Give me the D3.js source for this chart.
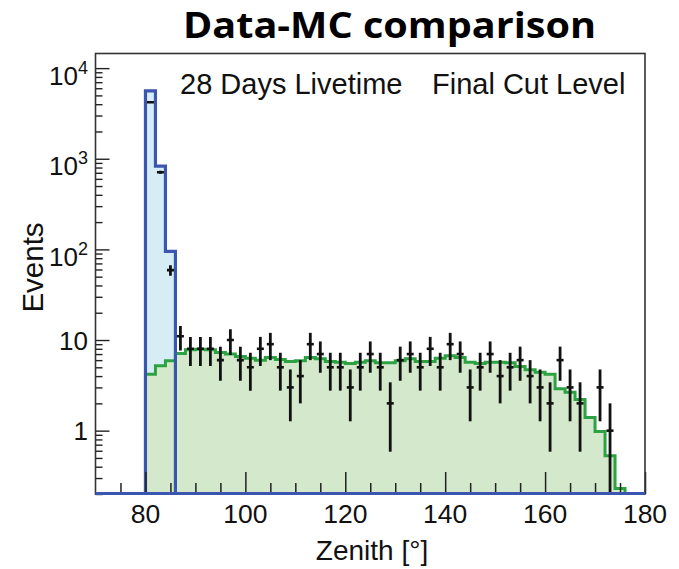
<!DOCTYPE html>
<html>
<head>
<meta charset="utf-8">
<script src="https://cdn.jsdelivr.net/npm/d3@7"></script>
<style>
  html, body { margin: 0; padding: 0; background: #fff; }
  svg { display: block; }
</style>
</head>
<body>
<div id="chart"></div>
<script>
// bins are 2 degrees wide, starting at 80
const binStart = 80;
const binWidth = 2;

// signal MC (blue) – first three bins only
const signalMC = [5600, 830, 95];

// background MC (green), bins 80-82 ... 174-176
const backgroundMC = [4.2, 5.2, 5.9, 7.1, 7.8, 7.9, 7.8, 7.3, 7.0, 6.6,
    6.3, 6.0, 6.4, 6.1, 5.8, 5.9, 6.4, 6.2, 5.8, 5.7,
    5.5, 5.7, 5.9, 5.6, 5.6, 5.9, 6.2, 5.8, 5.8, 6.3,
    6.7, 6.4, 5.7, 5.5, 5.7, 5.7, 5.6, 5.1, 4.7, 4.4,
    4.2, 2.9, 2.65, 2.2, 1.4, 0.98, 0.53, 0.23];

// data counts, bin centres 81 ... 173
const dataCounts = [4200, 710, 59, 11, 8, 8, 8, 6, 10, 6, 5, 8, 9, 5, 3,
    4, 9, 7, 5, 5, 3, 5, 7, 5, 2, 6, 7, 5, 8, 5, 9, 7, 3, 5, 7,
    4, 5, 6, 4, 3, 2, 6, 3, 2, 0, 3, 1];

const xTicks = [80, 100, 120, 140, 160, 180];
const yTicks = [1, 10, 100, 1000, 10000];
const yTickLabels = [["1", ""], ["10", ""], ["10", "2"], ["10", "3"], ["10", "4"]];

const blue = "#3a56b0", blueFill = "#d6edf5";
const green = "#2ba342", greenFill = "#d4e9cc";

const W = 679, H = 569;
const pLeft = 95.5, pRight = 645, pTop = 53.5, pBottom = 494;

const svg = d3.select("#chart").append("svg")
    .attr("width", W)
    .attr("height", H);

const x = d3.scaleLinear().domain([70, 180]).range([pLeft, pRight]);
const yMin = 0.2;
const y = d3.scaleLog().domain([yMin, 14500]).range([pBottom, pTop]);

svg.append("defs").append("clipPath")
    .attr("id", "plotclip")
    .append("rect")
    .attr("x", pLeft).attr("y", pTop)
    .attr("width", pRight - pLeft).attr("height", pBottom - pTop);

// turns bin values into step points over the full x range
function steps(values) {
    const pts = [[70, yMin], [binStart, yMin]];
    values.forEach((v, i) => {
        const x0 = binStart + i * binWidth;
        const vv = Math.max(v, yMin);
        pts.push([x0, vv], [x0 + binWidth, vv]);
    });
    const end = binStart + values.length * binWidth;
    pts.push([end, yMin], [180, yMin]);
    return pts;
}

const line = d3.line().x(d => x(d[0])).y(d => y(d[1]));
const area = d3.area().x(d => x(d[0])).y0(y(yMin)).y1(d => y(d[1]));

const plot = svg.append("g").attr("clip-path", "url(#plotclip)");

const sigPts = steps(signalMC);
const bkgPts = steps(backgroundMC);

plot.append("path").attr("d", area(sigPts)).attr("fill", blueFill);
plot.append("path").attr("d", area(bkgPts)).attr("fill", greenFill);
plot.append("path").attr("d", line(bkgPts))
    .attr("fill", "none").attr("stroke", green).attr("stroke-width", 3);
plot.append("path").attr("d", line(sigPts))
    .attr("fill", "none").attr("stroke", blue).attr("stroke-width", 3.2);

// data points with sqrt(N) errors
const pts = dataCounts.map((n, i) => ({ c: binStart + binWidth / 2 + i * binWidth, n }))
    .filter(d => d.n > 0);

const dp = plot.append("g").attr("stroke", "#111");
dp.selectAll("line.v").data(pts).join("line")
    .attr("class", "v")
    .attr("x1", d => x(d.c)).attr("x2", d => x(d.c))
    .attr("y1", d => y(d.n + Math.sqrt(d.n)))
    .attr("y2", d => y(Math.max(d.n - Math.sqrt(d.n), yMin)))
    .attr("stroke-width", 2.8);
dp.selectAll("line.h").data(pts).join("line")
    .attr("class", "h")
    .attr("x1", d => x(d.c - 0.7)).attr("x2", d => x(d.c + 0.7))
    .attr("y1", d => y(d.n)).attr("y2", d => y(d.n))
    .attr("stroke-width", 2.6);

// axes: ticks inward, ROOT style
const axisColor = "#222";
const xMinor = d3.range(75, 180, 5).filter(v => v % 20 !== 0);
const xAxis = svg.append("g").attr("transform", `translate(0,${pBottom})`);
xAxis.call(d3.axisBottom(x).tickValues(xTicks).tickSize(-22).tickFormat(""));
xAxis.call(g => g.append("g").call(d3.axisBottom(x).tickValues(xMinor).tickSize(-11).tickFormat("")));
xAxis.selectAll(".domain").remove();
xAxis.selectAll("line").attr("stroke", axisColor).attr("stroke-width", 1.5);

const yMinor = [];
[0.1, 1, 10, 100, 1000, 10000].forEach(dec => {
    for (let k = 2; k <= 9; k++) {
        const v = dec * k;
        if (v >= yMin && v <= 14500) yMinor.push(v);
    }
});
const yAxis = svg.append("g").attr("transform", `translate(${pLeft},0)`);
yAxis.call(d3.axisLeft(y).tickValues(yTicks).tickSize(-14).tickFormat(""));
yAxis.call(g => g.append("g").call(d3.axisLeft(y).tickValues(yMinor).tickSize(-7).tickFormat("")));
yAxis.selectAll(".domain").remove();
yAxis.selectAll("line").attr("stroke", axisColor).attr("stroke-width", 1.4);

// frame
svg.append("rect")
    .attr("x", pLeft).attr("y", pTop)
    .attr("width", pRight - pLeft).attr("height", pBottom - pTop)
    .attr("fill", "none").attr("stroke", "#333").attr("stroke-width", 1.6);

// blue baseline drawn over the frame bottom like the reference
svg.append("line")
    .attr("x1", pLeft).attr("x2", pRight)
    .attr("y1", pBottom - 0.5).attr("y2", pBottom - 0.5)
    .attr("stroke", blue).attr("stroke-width", 3);

const font = "'Liberation Sans', Arial, sans-serif";

// x tick labels
svg.append("g").selectAll("text").data(xTicks).join("text")
    .attr("x", d => x(d)).attr("y", 522.5)
    .attr("text-anchor", "middle")
    .style("font-family", font).style("font-size", "26.5px").attr("fill", "#111")
    .text(d => d);

// y tick labels
const yl = svg.append("g").selectAll("text").data(yTicks).join("text")
    .attr("x", 88)
    .attr("y", (d, i) => y(d) + (yTickLabels[i][1] ? 16.5 : 9.5))
    .attr("text-anchor", "end")
    .style("font-family", font).style("font-size", "26px").attr("fill", "#111");
yl.append("tspan").text((d, i) => yTickLabels[i][0]);
yl.append("tspan")
    .attr("dy", (d, i) => yTickLabels[i][1] ? -11 : 0)
    .style("font-size", "18px")
    .text((d, i) => yTickLabels[i][1]);

// axis titles
svg.append("text")
    .attr("x", 372).attr("y", 560)
    .attr("text-anchor", "middle")
    .style("font-family", font).style("font-size", "28px").attr("fill", "#111")
    .text("Zenith [°]");

svg.append("text")
    .attr("transform", "translate(43,267.5) rotate(-90)")
    .attr("text-anchor", "middle")
    .style("font-family", font).style("font-size", "29.5px").attr("fill", "#111")
    .text("Events");

// inner labels
svg.append("text")
    .attr("x", 180).attr("y", 94)
    .style("font-family", font).style("font-size", "29px").attr("fill", "#111")
    .text("28 Days Livetime");
svg.append("text")
    .attr("x", 432).attr("y", 94)
    .style("font-family", font).style("font-size", "29px").attr("fill", "#111")
    .text("Final Cut Level");

// title
svg.append("text")
    .attr("x", 183).attr("y", 38)
    .attr("textLength", 413).attr("lengthAdjust", "spacingAndGlyphs")
    .style("font-family", "'Open Sans', 'Noto Sans', sans-serif")
    .style("font-weight", "700").style("font-size", "35px").attr("fill", "#000")
    .text("Data-MC comparison");
</script>
</body>
</html>
